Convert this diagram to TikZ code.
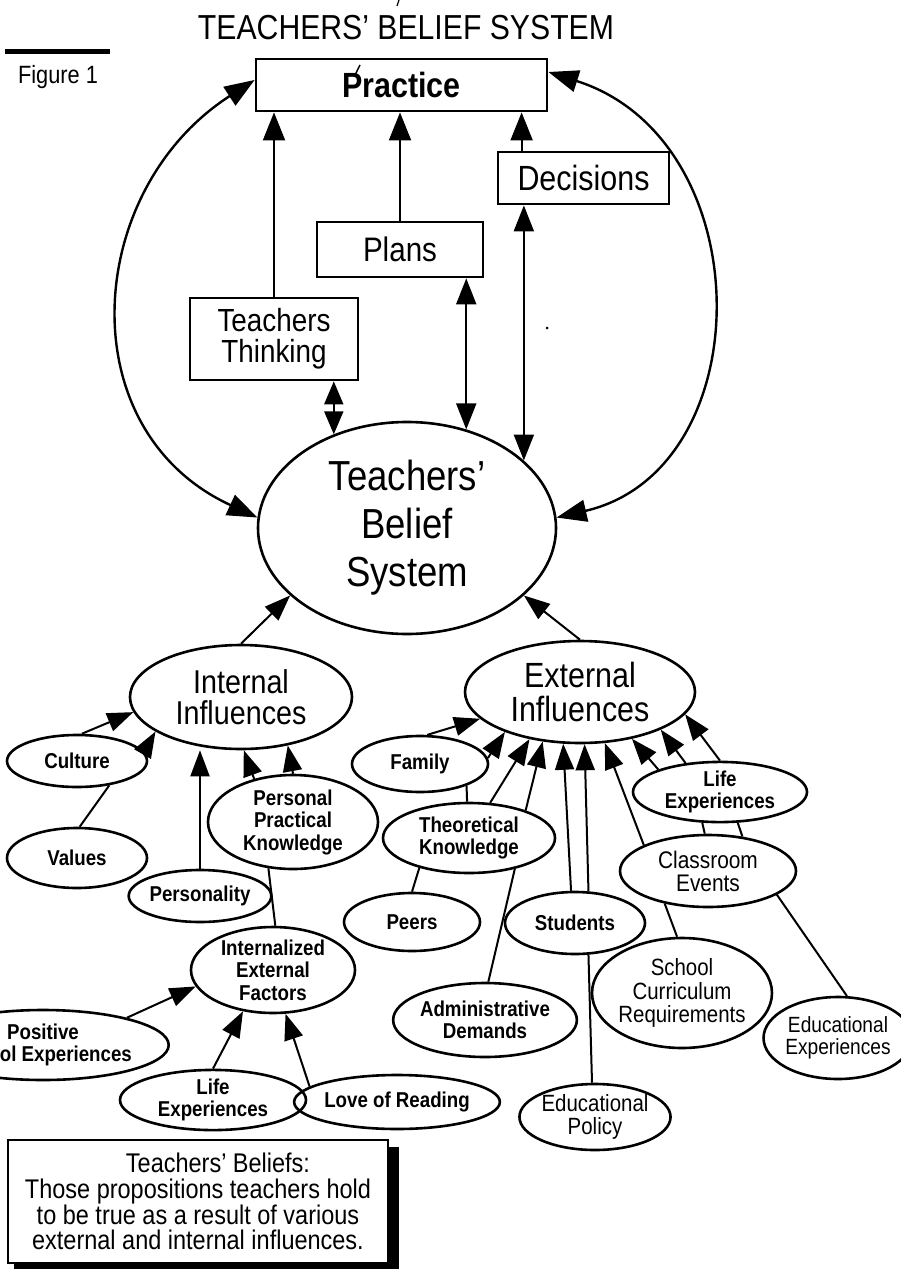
\documentclass[tikz,border=0pt]{standalone}
\usepackage{fontspec}
\setmainfont{Liberation Sans}[FakeStretch=0.87]
\usetikzlibrary{arrows.meta,shapes.geometric}
\newcommand\fsz[2]{\fontsize{#1pt}{#2pt}\selectfont}
\begin{document}
\begin{tikzpicture}[x=1pt,y=-1pt,
  box/.style={draw, rectangle, line width=2.8pt, inner sep=0pt},
  ell/.style n args={2}{ellipse, draw, line width=2.6pt, minimum width=#1pt, minimum height=#2pt, inner sep=0pt, align=center},
  sb/.style={font=\fsz{21.5}{22.5}\bfseries},
  rg/.style={font=\fsz{23.5}{23.5}},
  ln/.style={line width=2pt},
  arr/.style={line width=2pt, -{Triangle[length=26pt,width=19pt]}},
  arrT/.style={line width=2pt, -{Triangle[length=28pt,width=22pt]}},
  arrb/.style={line width=2pt, {Triangle[length=26pt,width=20pt]}-{Triangle[length=26pt,width=20pt]}},
  arrc/.style={line width=2.4pt, {Triangle[length=30pt,width=22pt]}-{Triangle[length=30pt,width=22pt]}},
  arrs/.style={line width=2pt, {Triangle[length=23pt,width=19pt]}-{Triangle[length=23pt,width=19pt]}}
]
\useasboundingbox[fill=white] (0,0) rectangle (901,1271);

% title and figure label
\node[font=\fsz{34.7}{36}] (title) at (406,28) {TEACHERS' BELIEF SYSTEM};
\draw[line width=5pt] (5,52) -- (110,52);
\node[font=\fsz{25}{26}] (fig) at (58,77) {Figure 1};
\draw[line width=1.2pt] (399,0) -- (397,6);

% boxes
\node[box, minimum width=291pt, minimum height=52pt, font=\fsz{35}{36}\bfseries] (practice) at (401.5,85) {Practice};
\draw[line width=1.5pt] (355,75) -- (360,65);
\node[box, minimum width=171pt, minimum height=52pt, font=\fsz{35}{36}] (decisions) at (583.5,178) {Decisions};
\node[box, minimum width=166pt, minimum height=55pt, font=\fsz{34}{36}] (plans) at (400,249.5) {Plans};
\node[box, minimum width=168pt, minimum height=82pt, font=\fsz{32}{31}, align=center] (tt) at (274,339) {Teachers\\Thinking};
\fill (547,328) circle (1.5pt);

% main ellipses
\node[ell={298}{212}, font=\fsz{42}{48}] (belief) at (407,528) {Teachers'\\Belief\\System};
\node[ell={222}{104}, font=\fsz{33}{31}] (intinf) at (241,697) {Internal\\Influences};
\node[ell={230}{102}, font=\fsz{35}{34}] (extinf) at (580,692) {External\\Influences};

% internal side
\node[ell={140}{52}, sb] (culture) at (77,761) {Culture};
\node[ell={140}{60}, sb] (values) at (77,858) {Values};
\node[ell={170}{94}, sb] (ppk) at (293,822) {Personal\\Practical\\Knowledge};
\node[ell={140}{52}, sb] (personality) at (200,896) {Personality};
\node[ell={164}{80}, sb] (ief) at (273,970) {Internalized\\External\\Factors};
\node[ell={214}{70}, sb] (positive) at (43,1045) {Positive\\School Experiences};
\node[ell={186}{60}, sb] (lifeL) at (213,1100) {Life\\Experiences};
\node[ell={180}{54}, sb] (love) at (397,1102) {Love of Reading};

% external side
\node[ell={136}{56}, sb] (family) at (420,764) {Family};
\node[ell={172}{70}, sb] (theo) at (469,838) {Theoretical\\Knowledge};
\node[ell={174}{60}, sb] (lifeR) at (720,792) {Life\\Experiences};
\node[ell={176}{72}, font=\fsz{24}{23}] (classroom) at (708,871) {Classroom\\Events};
\node[ell={136}{58}, sb] (peers) at (412,922) {Peers};
\node[ell={140}{62}, sb] (students) at (575,923) {Students};
\node[ell={178}{110}, rg] (school) at (682,993) {School\\Curriculum\\Requirements};
\node[ell={174}{74}, sb] (admin) at (485,1020) {Administrative\\Demands};
\node[ell={132}{82}, font=\fsz{22}{21.5}] (eduexp) at (838,1038) {Educational\\Experiences};
\node[ell={150}{66}, rg] (policy) at (595,1117) {Educational\\Policy};

% legend
\node[draw, line width=2.5pt, fill=white, minimum width=380pt, minimum height=123pt, inner sep=0pt, align=center, font=\fsz{27}{25.7}] (legend) at (198,1201.5)
  {\hspace*{40pt}Teachers' Beliefs:\\Those propositions teachers hold\\to be true as a result of various\\external and internal influences.};
\fill ([shift={(0pt,-8pt)}]legend.north east) rectangle ([shift={(10pt,-5pt)}]legend.south east);
\fill ([shift={(7pt,0pt)}]legend.south west) rectangle ([shift={(10pt,-5pt)}]legend.south east);

% top connectors
\coordinate (d1) at ([xshift=25pt]decisions.north west);
\draw[arrT] (tt.north) -- (tt.north |- practice.south);
\draw[arrT] (plans.north) -- (plans.north |- practice.south);
\draw[arrT] (d1) -- (d1 |- practice.south);
\draw[arrb] (belief.59 |- plans.south) -- (belief.59);
\draw[arrb] (belief.30 |- decisions.south) -- (belief.30);
\draw[arrs] (belief.128 |- tt.south) -- (belief.128);
\draw[arrc] (belief.176) .. controls (68,430) and (84,190) .. ([yshift=5pt]practice.west);
\draw[arrc] (belief.4) .. controls (762,470) and (762,140) .. ([yshift=13pt]practice.east);

% influences to belief system
\draw[arr] (intinf.north) -- (belief.210);
\draw[arr] (extinf.north) -- (belief.330);

% internal influences
\draw[ln] (values.85) -- (culture.323);
\draw[arr] (culture.80) -- (intinf.188);
\draw[arr] (culture.8) -- (intinf.202);
\draw[arr] (personality.north) -- (personality.north |- intinf.south);
\draw[arr] (ppk.132) -- (intinf.273);
\draw[arr] (ppk.north) -- (intinf.314);
\draw[ln] (ppk.242) -- (ief.87);
\draw[arr] (positive.18) -- (ief.192);
\draw[arr] (lifeL.north) -- (ief.234);
\draw[arr] (love.170) -- (ief.286);

% external influences
\draw[ln] (family.335) -- (theo.93);
\draw[arr] (family.76) -- (extinf.195);
\draw[arr] (family.5) -- (extinf.208);
\draw[arr] (theo.59) -- (extinf.223);
\draw[arr] (theo.26) -- (extinf.233);
\draw[arr] (students.97) -- (extinf.252);
\draw[arr] (students.67) -- (extinf.275);
\draw[arr] (classroom.158) -- (extinf.296);
\draw[arr] (lifeR.160) -- (extinf.318);
\draw[arr] (lifeR.140) -- (extinf.335);
\draw[arr] (lifeR.north) -- (extinf.348);
\draw[ln] (lifeR.240) -- (classroom.95);
\draw[ln] (lifeR.300) -- (classroom.45);
\draw[ln] (theo.211) -- (peers.north);
\draw[ln] (theo.326) -- (admin.85);
\draw[ln] (students.293) -- (policy.95);
\draw[ln] (classroom.217) -- (school.95);
\draw[ln] (classroom.341) -- (eduexp.78);
\end{tikzpicture}
\end{document}
